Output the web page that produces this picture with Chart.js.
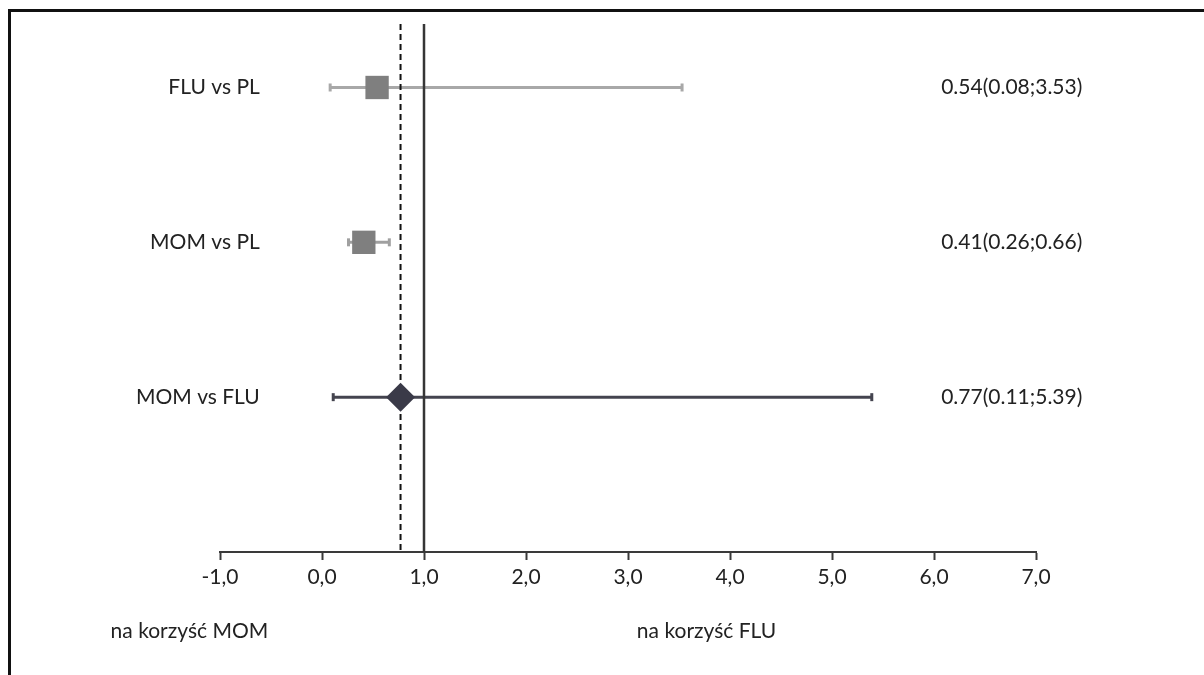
<!DOCTYPE html>
<html>
<head>
<meta charset="utf-8">
<script src="https://cdn.jsdelivr.net/npm/chart.js@4.4.0/dist/chart.umd.min.js"></script>
<style>
    html, body { margin: 0; padding: 0; background: #fff; }
    #wrap { position: relative; width: 1204px; height: 675px; overflow: hidden; }
    #forest { position: absolute; left: 0; top: 0; }
    #frame {
        position: absolute; left: 8px; top: 9px; right: -10px; bottom: -10px;
        border-left: 3px solid #111; border-top: 3px solid #111;
        pointer-events: none;
    }
</style>
</head>
<body>
<div id="wrap">
    <canvas id="forest" width="1204" height="675"></canvas>
    <div id="frame"></div>
</div>
<script>
// ------------------------------------------------------------
// Forest plot — MOM / FLU / PL comparisons
// ------------------------------------------------------------

const ROW_LABELS = ["FLU vs PL", "MOM vs PL", "MOM vs FLU"];
const ROW_POS = [3, 2, 1];
const ESTIMATES = [0.54, 0.41, 0.77];
const LOWER_CI = [0.08, 0.26, 0.11];
const UPPER_CI = [3.53, 0.66, 5.39];
const CI_TEXT = ["0.54(0.08;3.53)", "0.41(0.26;0.66)", "0.77(0.11;5.39)"];
const X_TICKS = [-1, 0, 1, 2, 3, 4, 5, 6, 7];
const REF_NULL = 1.0;
const REF_POOLED = 0.77;
const SIDE_LABELS = ["na korzyść MOM", "na korzyść FLU"];

// styling (not data)
const MARKER_STYLE = ["rect", "rect", "rectRot"];
const MARKER_RADIUS = [16.5, 16.5, 14.5];
const MARKER_COLOR = ["#7f7f7f", "#7f7f7f", "#3a3a48"];
const BAR_COLOR = ["#a8a8a8", "#a0a0a0", "#44444f"];
const FONT = "Lato, 'Open Sans', sans-serif";
const TEXT_COLOR = "#222";

// label anchors, in axis units
const ROW_LABEL_X = -0.61;
const CI_TEXT_X = 6.07;
const SIDE_LABEL_X = [-1.3, 3.77];

const forestPlugin = {
    id: "forest",
    beforeDatasetsDraw(chart) {
        const { ctx, chartArea, scales: { x, y } } = chart;
        ctx.save();
        // confidence intervals
        ROW_POS.forEach((pos, i) => {
            const py = y.getPixelForValue(pos);
            const x0 = x.getPixelForValue(LOWER_CI[i]);
            const x1 = x.getPixelForValue(UPPER_CI[i]);
            ctx.strokeStyle = BAR_COLOR[i];
            ctx.lineWidth = 3;
            ctx.beginPath();
            ctx.moveTo(x0, py);
            ctx.lineTo(x1, py);
            ctx.stroke();
            [x0, x1].forEach(px => {
                ctx.beginPath();
                ctx.moveTo(px, py - 4);
                ctx.lineTo(px, py + 4);
                ctx.stroke();
            });
        });
        // reference lines
        const nx = x.getPixelForValue(REF_NULL);
        ctx.strokeStyle = "#363636";
        ctx.lineWidth = 2.5;
        ctx.setLineDash([]);
        ctx.beginPath();
        ctx.moveTo(nx, chartArea.top);
        ctx.lineTo(nx, chartArea.bottom);
        ctx.stroke();

        const px = x.getPixelForValue(REF_POOLED);
        ctx.strokeStyle = "#111";
        ctx.lineWidth = 2;
        ctx.setLineDash([6, 4]);
        ctx.beginPath();
        ctx.moveTo(px, chartArea.top);
        ctx.lineTo(px, chartArea.bottom);
        ctx.stroke();
        ctx.restore();
    },
    afterDraw(chart) {
        const { ctx, scales: { x, y } } = chart;
        ctx.save();
        ctx.font = "21px " + FONT;
        ctx.fillStyle = TEXT_COLOR;
        ctx.textBaseline = "middle";
        ROW_POS.forEach((pos, i) => {
            const py = y.getPixelForValue(pos);
            ctx.textAlign = "right";
            ctx.fillText(ROW_LABELS[i], x.getPixelForValue(ROW_LABEL_X), py);
            ctx.textAlign = "left";
            ctx.fillText(CI_TEXT[i], x.getPixelForValue(CI_TEXT_X), py);
        });
        ctx.textAlign = "center";
        SIDE_LABELS.forEach((t, i) => {
            ctx.fillText(t, x.getPixelForValue(SIDE_LABEL_X[i]), x.bottom - 44);
        });
        ctx.restore();
    }
};

new Chart(document.getElementById("forest"), {
    type: "scatter",
    data: {
        datasets: [{
            data: ESTIMATES.map((v, i) => ({ x: v, y: ROW_POS[i] })),
            pointStyle: MARKER_STYLE,
            pointRadius: MARKER_RADIUS,
            pointBackgroundColor: MARKER_COLOR,
            pointBorderColor: MARKER_COLOR,
            pointBorderWidth: 0
        }]
    },
    options: {
        responsive: false,
        animation: false,
        events: [],
        layout: { padding: { left: 220, right: 168, top: 24, bottom: 0 } },
        plugins: {
            legend: { display: false },
            tooltip: { enabled: false }
        },
        scales: {
            x: {
                type: "linear",
                min: X_TICKS[0],
                max: X_TICKS[X_TICKS.length - 1],
                afterBuildTicks: s => { s.ticks = X_TICKS.map(v => ({ value: v })); },
                afterFit: s => { s.height = 123; },
                border: { display: true, color: "#3a3a3a", width: 2 },
                grid: { display: true, drawOnChartArea: false, drawTicks: true, tickLength: 8, tickColor: "#3a3a3a", tickWidth: 2 },
                ticks: {
                    padding: 5,
                    color: TEXT_COLOR,
                    font: { family: FONT, size: 21 },
                    maxRotation: 0,
                    callback: v => v.toFixed(1).replace(".", ",")
                }
            },
            y: {
                type: "linear",
                min: 0,
                max: 3.41,
                display: false
            }
        }
    },
    plugins: [forestPlugin]
});
</script>
</body>
</html>
